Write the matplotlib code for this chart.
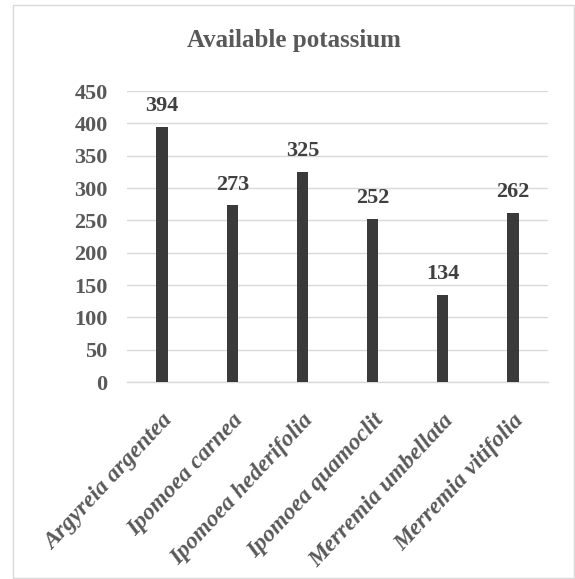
import numpy as np
import matplotlib.pyplot as plt
from matplotlib.patches import Rectangle

# potassium values per species
species = ['Argyreia argentea', 'Ipomoea carnea', 'Ipomoea hederifolia',
           'Ipomoea quamoclit', 'Merremia umbellata', 'Merremia vitifolia']
potassium = [394, 273, 325, 252, 134, 262]
yticks = [0, 50, 100, 150, 200, 250, 300, 350, 400, 450]

plt.rcParams['font.family'] = ['Liberation Serif', 'DejaVu Serif']

fig = plt.figure(figsize=(5.75, 5.79), dpi=100)
ax = fig.add_axes([0.2209, 0.3402, 0.953 - 0.2209, 0.8428 - 0.3402])

x = np.arange(len(species))
ax.bar(x, potassium, width=0.16, color='#3a3a3a', zorder=3)

# value labels above the bars
for xi, v in zip(x, potassium):
    ax.annotate(str(v), (xi, v), xytext=(0, 11.5), textcoords='offset points',
                ha='center', va='baseline', fontsize=16, fontweight='bold',
                color='#404040')

ax.set_xlim(-0.5, len(species) - 0.5)
ax.set_ylim(0, 450)
ax.set_yticks(yticks)
ax.set_yticklabels([str(t) for t in yticks], fontsize=16, fontweight='bold',
                   color='#595959')
ax.set_xticks(x)
ax.set_xticklabels(species, rotation=47, ha='right', rotation_mode='anchor',
                   fontsize=17, fontweight='bold', fontstyle='italic',
                   color='#595959')
ax.tick_params(axis='y', length=0, pad=14)
ax.tick_params(axis='x', length=0, pad=20)

ax.grid(axis='y', color='#d9d9d9', linewidth=1, zorder=0)
for s in ['top', 'right', 'left']:
    ax.spines[s].set_visible(False)
ax.spines['bottom'].set_color('#d9d9d9')
ax.spines['bottom'].set_linewidth(1)

fig.text(294 / 575, 1 - 41 / 579, 'Available potassium', ha='center',
         va='center', fontsize=18, fontweight='bold', color='#595959')

# thin frame around the chart area
fig.patches.append(Rectangle((13 / 575, 1 / 579), 561 / 575, 573 / 579,
                             transform=fig.transFigure, fill=False,
                             edgecolor='#d9d9d9', linewidth=1))

fig.savefig('out.png', dpi=100)
